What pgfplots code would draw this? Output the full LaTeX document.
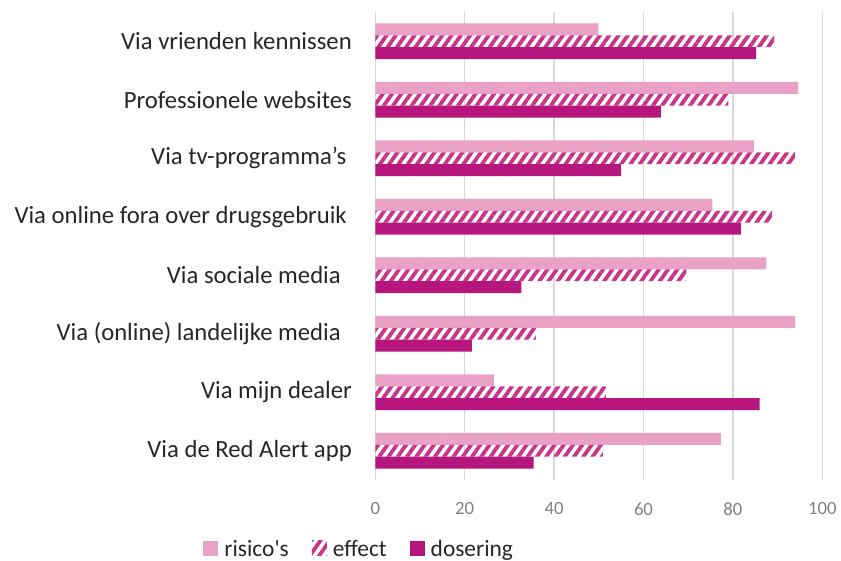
\documentclass[border=0pt]{standalone}
\usepackage{pgfplots}
\pgfplotsset{compat=1.18}
\usepackage{fontspec}
\setmainfont{Carlito}
\usetikzlibrary{patterns.meta}
\definecolor{risico}{RGB}{234,161,198}
\definecolor{dosering}{RGB}{182,22,126}
\definecolor{effect}{RGB}{200,52,138}
\definecolor{gridc}{RGB}{217,217,217}
\definecolor{tickc}{RGB}{128,128,128}
\definecolor{labc}{RGB}{38,38,38}
\begin{document}
\begin{tikzpicture}
\path[use as bounding box] (-375.3pt,-81pt) rectangle (465.7pt,480pt);
\clip (-375.3pt,-81pt) rectangle (465.7pt,480pt);
\begin{axis}[
  at={(0pt,0pt)}, anchor=south west,
  scale only axis, width=447pt, height=468pt,
  xbar,
  xmin=0, xmax=100, ymin=-0.5, ymax=7.5,
  xtick={0,20,...,100},
  ytick={0,...,7},
  yticklabels={Via de Red Alert app,Via mijn dealer,Via (online) landelijke media\hspace*{11pt},Via sociale media\hspace*{11pt},Via online fora over drugsgebruik\hspace*{5pt},Via tv-programma’s\hspace*{5.6pt},Professionele websites,Via vrienden kennissen},
  xmajorgrids, major grid style={gridc, line width=1.5pt},
  axis line style={draw=none},
  major tick length=0pt,
  /pgf/number format/assume math mode=true,
  xticklabel style={font=\fontsize{18.7}{22}\selectfont, text=tickc, yshift=-19pt},
  yticklabel style={font=\fontsize{24.7}{29}\selectfont, text=labc, xshift=-20pt},
  bar width=0.205,
  legend image code/.code={\path[#1,draw=none] (0pt,-7pt) rectangle (15pt,8pt);},
  legend columns=3,
  legend style={draw=none, fill=none, at={(axis description cs:-0.036,-0.147)}, anchor=center,
    font=\fontsize{23.4}{28}\selectfont, text=labc,
    /tikz/every odd column/.append style={column sep=4pt},
    /tikz/every even column/.append style={column sep=21pt},
    inner xsep=0pt, cells={anchor=west}},
]
\addplot[fill=risico, draw=none, bar shift=0.205] coordinates {
(77.3,0) (26.5,1) (93.9,2) (87.5,3) (75.4,4) (84.7,5) (94.6,6) (49.9,7)};
\addplot[draw=none, bar shift=0, pattern={Lines[angle=55,distance=7.6pt,line width=3.8pt]}, pattern color=effect] coordinates {
(50.9,0) (51.6,1) (35.9,2) (69.6,3) (88.7,4) (93.9,5) (79.0,6) (89.2,7)};
\addplot[fill=dosering, draw=none, bar shift=-0.205] coordinates {
(35.4,0) (86.0,1) (21.6,2) (32.7,3) (81.8,4) (55.0,5) (63.9,6) (85.2,7)};
\legend{risico\textquotesingle s,effect,dosering}
\end{axis}
\end{tikzpicture}
\end{document}
